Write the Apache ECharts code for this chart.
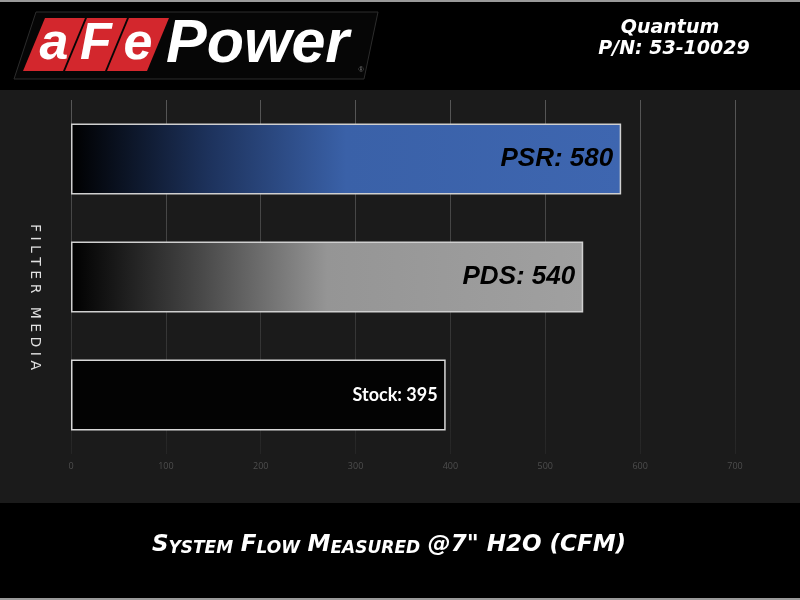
<!DOCTYPE html>
<html><head><meta charset="utf-8">
<script src="https://cdn.jsdelivr.net/npm/echarts@6/dist/echarts.min.js"></script>
<style>html,body{margin:0;padding:0;background:#000}#c{width:800px;height:600px}</style>
</head><body><div id="c"></div>
<script>
// ---- data ----
const categories = ['PSR', 'PDS', 'Stock'];
const flowValues = [580, 540, 395];
const tickLabels = ['0', '100', '200', '300', '400', '500', '600', '700'];
const axisMin = 0, axisMax = 700, axisStep = 100;
const axisTitle = 'FILTER MEDIA';
const productName = 'Quantum';
const partNumber = 'P/N: 53-10029';

// ---- styles ----
const G = echarts.graphic.LinearGradient;
const barStyles = [
  { fill: new G(0, 0, 1, 0, [{offset: 0, color: '#000000'}, {offset: 0.25, color: '#1d325c'}, {offset: 0.5, color: '#3a61a8'}, {offset: 1, color: '#3e66b0'}]),
    border: '#d0d0d0', text: '#000000', font: 'Liberation Sans', size: 26, weight: 'bold', style: 'italic' },
  { fill: new G(0, 0, 1, 0, [{offset: 0, color: '#000000'}, {offset: 0.25, color: '#474747'}, {offset: 0.5, color: '#959595'}, {offset: 1, color: '#a0a0a0'}]),
    border: '#d0d0d0', text: '#000000', font: 'Liberation Sans', size: 26, weight: 'bold', style: 'italic' },
  { fill: '#030303', border: '#d8d8d8', text: '#ffffff', font: 'Lato', size: 18, weight: 'bold', style: 'normal' }
];

const seriesData = flowValues.map((v, i) => ({
  value: v,
  itemStyle: { color: barStyles[i].fill, borderColor: barStyles[i].border, borderWidth: 1.5 },
  label: { color: barStyles[i].text, fontFamily: barStyles[i].font, fontSize: barStyles[i].size,
           fontWeight: barStyles[i].weight, fontStyle: barStyles[i].style }
}));

const chart = echarts.init(document.getElementById('c'), null, {renderer: 'canvas'});

const logoBlocks = ['a', 'F', 'e'].map((ch, i) => {
  const tx = 45 + i * 42;
  return [
    { type: 'polygon', z: 2, shape: { points: [[tx, 18], [tx + 40, 18], [tx + 18, 71], [tx - 22, 71]] },
      style: { fill: '#d3272d' } },
    { type: 'text', z: 3, x: tx + 9, y: 45, style: { text: ch, fill: '#ffffff', font: 'italic bold 52px "Liberation Sans"',
      align: 'center', verticalAlign: 'middle' } }
  ];
}).flat();

const titleFont = { fontFamily: 'DejaVu Sans', fontStyle: 'italic', fontWeight: 'bold', fill: '#ffffff', color: '#ffffff', verticalAlign: 'bottom' };

chart.setOption({
  backgroundColor: '#1b1b1b',
  animation: false,
  grid: { left: 71, right: 65, top: 100, bottom: 146, containLabel: false },
  xAxis: {
    type: 'value', min: axisMin, max: axisMax, interval: axisStep,
    axisLine: { show: false }, axisTick: { show: false },
    splitLine: { show: true, lineStyle: { width: 1,
      color: new G(0, 0, 0, 1, [{offset: 0, color: '#575757'}, {offset: 1, color: '#252525'}]) } },
    axisLabel: { color: '#4e4e4e', fontSize: 9, fontFamily: 'Open Sans', margin: 8,
      formatter: v => tickLabels[Math.round((v - axisMin) / axisStep)] }
  },
  yAxis: {
    type: 'category', data: categories, inverse: true,
    axisLine: { show: false }, axisTick: { show: false }, axisLabel: { show: false },
    splitLine: { show: false }
  },
  series: [{
    type: 'bar', data: seriesData, barWidth: 71,
    label: { show: true, position: 'insideRight', distance: 8, formatter: '{b}: {c}' }
  }],
  graphic: [
    { type: 'rect', z: 0, shape: { x: 0, y: 0, width: 800, height: 90 }, style: { fill: '#000000' } },
    { type: 'rect', z: 0, shape: { x: 0, y: 503, width: 800, height: 97 }, style: { fill: '#000000' } },
    { type: 'rect', z: 1, shape: { x: 0, y: 0, width: 800, height: 2 }, style: { fill: '#9a9a9a' } },
    { type: 'rect', z: 1, shape: { x: 0, y: 598, width: 800, height: 2 }, style: { fill: '#9a9a9a' } },
    { type: 'polygon', z: 1, shape: { points: [[36, 12], [378, 12], [364, 79], [14, 79]] },
      style: { fill: '#060606', stroke: '#2c2c2c', lineWidth: 1 } },
    ...logoBlocks,
    { type: 'text', z: 3, x: 166, y: 45, style: { text: 'Power', fill: '#ffffff', font: 'italic bold 61px "Liberation Sans"',
      align: 'left', verticalAlign: 'middle' } },
    { type: 'text', z: 3, x: 361, y: 70, style: { text: '®', fill: '#777777', font: '7px "Liberation Sans"',
      align: 'center', verticalAlign: 'middle' } },
    { type: 'text', z: 3, x: 670, y: 28, style: { text: productName, fill: '#ffffff', font: 'italic bold 19px "DejaVu Sans"',
      align: 'center', verticalAlign: 'middle' } },
    { type: 'text', z: 3, x: 674, y: 49, style: { text: partNumber, fill: '#ffffff', font: 'italic bold 19px "DejaVu Sans"',
      align: 'center', verticalAlign: 'middle' } },
    { type: 'text', z: 3, x: 35, y: 297, rotation: -Math.PI / 2,
      style: { text: axisTitle.split('').join(' '), fill: '#e0e0e0', font: '500 14px "DejaVu Sans"',
      align: 'center', verticalAlign: 'middle' } },
    { type: 'text', z: 3, x: 389, y: 544,
      style: { text: '{b|S}{s|YSTEM} {b|F}{s|LOW} {b|M}{s|EASURED} {b|@7" H2O (CFM)}',
        align: 'center', verticalAlign: 'middle', fill: '#ffffff',
        font: 'italic bold 22px "DejaVu Sans"',
        rich: {
          b: Object.assign({ fontSize: 23, lineHeight: 26 }, titleFont),
          s: Object.assign({ fontSize: 17, lineHeight: 21 }, titleFont)
        } } }
  ]
});
</script></body></html>
